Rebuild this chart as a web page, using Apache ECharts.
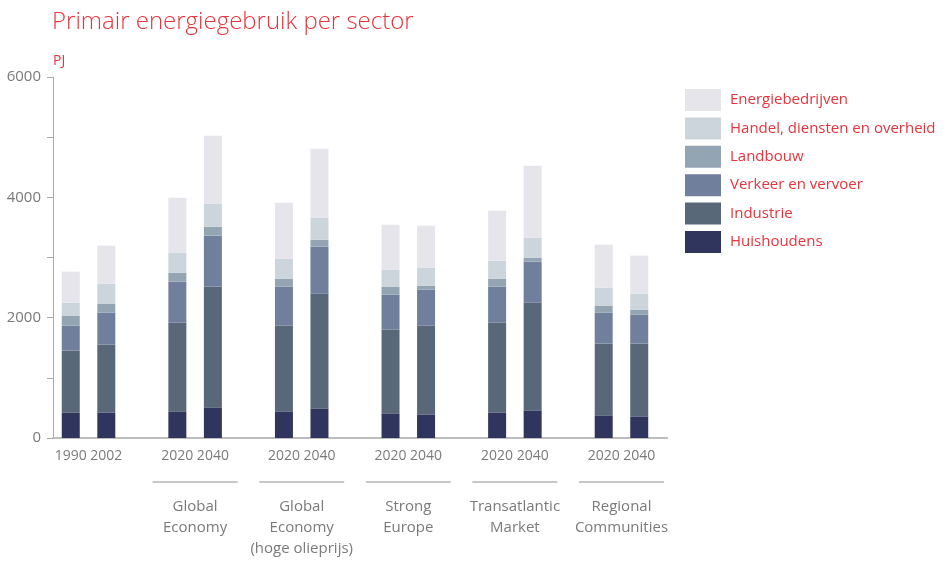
<!DOCTYPE html>
<html>
<head>
<meta charset="utf-8">
<script src="https://cdn.jsdelivr.net/npm/echarts@6/dist/echarts.min.js"></script>
<style>
  html, body { margin: 0; padding: 0; background: #fff; }
  #chart { width: 946px; height: 561px; }
</style>
</head>
<body>
<div id="chart"></div>
<script>
// kolommen, lege plekken scheiden de scenario's
var periods = ['1990', '2002', '', '2020', '2040', '', '2020', '2040', '', '2020', '2040', '', '2020', '2040', '', '2020', '2040'];
// scenario-namen op de grenzen tussen de kolommen (18 grenzen)
var scenarios = ['', '', '', '', 'Global\nEconomy', '', '', 'Global\nEconomy\n(hoge olieprijs)', '', '', 'Strong\nEurope', '', '',
    'Transatlantic\nMarket', '', '', 'Regional\nCommunities', ''];

var huishoudens = [426, 426, null, 442, 509, null, 442, 492, null, 409, 393, null, 426, 459, null, 376, 360];
var industrie = [1029, 1128, null, 1477, 2008, null, 1427, 1908, null, 1394, 1476, null, 1493, 1792, null, 1195, 1211];
var verkeer = [414, 531, null, 681, 846, null, 648, 780, null, 581, 598, null, 598, 680, null, 514, 481];
var landbouw = [166, 150, null, 149, 149, null, 132, 116, null, 133, 66, null, 132, 67, null, 116, 83];
var handel = [216, 331, null, 332, 382, null, 332, 365, null, 282, 299, null, 299, 332, null, 299, 265];
var energie = [514, 631, null, 912, 1128, null, 929, 1145, null, 746, 697, null, 830, 1194, null, 714, 631];

var sectors = ['Huishoudens', 'Industrie', 'Verkeer en vervoer', 'Landbouw', 'Handel, diensten en overheid', 'Energiebedrijven'];
var colors = ['#30355e', '#596878', '#707f9b', '#93a5b3', '#cbd5db', '#e5e5eb'];
var values = [huishoudens, industrie, verkeer, landbouw, handel, energie];

var red = '#e8333c';
var grey = '#7a7a7a';
var font = 'Open Sans';

var chart = echarts.init(document.getElementById('chart'));

var series = [];
for (var i = 0; i < sectors.length; i++) {
    series.push({
        name: sectors[i],
        type: 'bar',
        stack: 'pj',
        barWidth: 18,
        itemStyle: { color: colors[i] },
        data: values[i]
    });
}

var option = {
    animation: false,
    textStyle: { fontFamily: font },
    title: {
        text: 'Primair energiegebruik per sector',
        left: 47,
        top: 5,
        textStyle: { color: red, fontSize: 24, fontWeight: 300, fontFamily: font }
    },
    legend: {
        orient: 'vertical',
        left: 680,
        top: 84,
        itemWidth: 36,
        itemHeight: 22,
        itemGap: 6.4,
        icon: 'rect',
        selectedMode: false,
        data: sectors.slice().reverse(),
        textStyle: { color: red, fontSize: 15, fontFamily: font, padding: [0, 0, 0, 4] }
    },
    grid: { left: 53, top: 77, width: 604, height: 361 },
    xAxis: [{
        type: 'category',
        data: periods,
        axisLine: { lineStyle: { color: '#bdbdbd', width: 2 } },
        axisTick: { show: false },
        axisLabel: { color: grey, fontSize: 14, fontFamily: font, margin: 11, interval: 0 }
    }, {
        type: 'category',
        data: scenarios,
        position: 'bottom',
        boundaryGap: false,
        axisLine: { show: false },
        axisTick: { show: false },
        axisLabel: {
            interval: 0,
            margin: 43,
            color: grey,
            fontSize: 15,
            formatter: function (v) {
                if (!v) return '';
                var lines = v.split('\n').map(function (s) { return '{t|' + s + '}'; });
                return '{l| }\n{s| }\n' + lines.join('\n');
            },
            rich: {
                l: { width: 85, height: 2, lineHeight: 2, backgroundColor: '#c8c8c8', fontSize: 1 },
                s: { height: 13, lineHeight: 13, fontSize: 1 },
                t: { color: grey, fontSize: 15, lineHeight: 21, fontFamily: font }
            }
        }
    }],
    yAxis: {
        type: 'value',
        min: 0,
        max: 6000,
        interval: 1000,
        name: 'PJ',
        nameGap: 9,
        nameTextStyle: { color: red, fontSize: 14, align: 'left', padding: [0, 0, 0, 0] },
        axisLine: { show: true, lineStyle: { color: '#aaaaaa' } },
        axisTick: { show: true, length: 6, lineStyle: { color: '#aaaaaa' } },
        splitLine: { show: false },
        axisLabel: {
            color: grey,
            fontSize: 15,
            margin: 12,
            formatter: function (v) { return v % 2000 === 0 ? String(v) : ''; }
        }
    },
    series: series
};
chart.setOption(option);

// de x-as loopt in het origineel iets verder door dan de laatste kolom
var end = chart.convertToPixel({ gridIndex: 0 }, [periods.length - 1, 0]);
var rightEdge = 53 + 604;
chart.setOption({
    graphic: [{
        type: 'line',
        shape: { x1: rightEdge, y1: end[1], x2: rightEdge + 11, y2: end[1] },
        style: { stroke: '#bdbdbd', lineWidth: 2 }
    }]
});
</script>
</body>
</html>
